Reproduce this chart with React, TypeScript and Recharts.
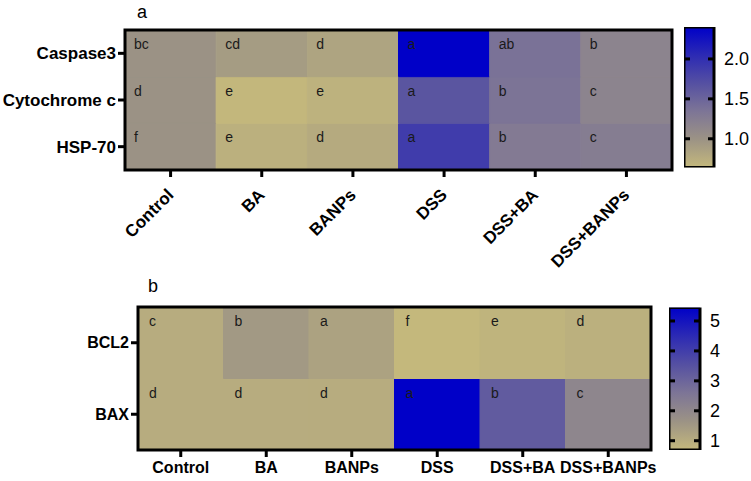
import React from "react";
import {
  BarChart,
  Bar,
  XAxis,
  YAxis,
  Cell,
  LabelList,
} from "recharts";

const FONT = "'Liberation Sans', Arial, Helvetica, sans-serif";

// groups along the x axis (same for both panels)
const groups = ["Control", "BA", "BANPs", "DSS", "DSS+BA", "DSS+BANPs"];

// panel a - rows top to bottom
const markersA = ["Caspase3", "Cytochrome c", "HSP-70"];
const caspase3 = [1.0, 0.91, 0.83, 2.4, 1.37, 1.17];
const cytochromeC = [1.0, 0.65, 0.7, 1.65, 1.35, 1.17];
const hsp70 = [1.0, 0.72, 0.77, 1.88, 1.28, 1.25];
const caspase3Letters = ["bc", "cd", "d", "a", "ab", "b"];
const cytochromeCLetters = ["d", "e", "e", "a", "b", "c"];
const hsp70Letters = ["f", "e", "d", "a", "b", "c"];
const scaleA = [0.64, 2.4];
const scaleTicksA = [1.0, 1.5, 2.0];

// panel b - rows top to bottom
const markersB = ["BCL2", "BAX"];
const bcl2 = [1.0, 1.5, 1.25, 0.69, 0.8, 0.9];
const bax = [1.0, 1.0, 1.0, 5.45, 3.27, 2.07];
const bcl2Letters = ["c", "b", "a", "f", "e", "d"];
const baxLetters = ["d", "d", "d", "a", "b", "c"];
const scaleB = [0.69, 5.45];
const scaleTicksB = [1, 2, 3, 4, 5];

// khaki -> grey -> blue, like the colour map in the figure
const STOPS: [number, number[]][] = [
  [0, [196, 184, 124]],
  [0.2, [156, 147, 133]],
  [0.4, [125, 117, 150]],
  [0.6, [85, 80, 162]],
  [0.8, [44, 42, 180]],
  [1, [0, 0, 200]],
];

const rgb = (c: number[]) => `rgb(${c.map((v) => Math.round(v)).join(",")})`;

function heatColor(v: number, lo: number, hi: number) {
  const t = Math.max(0, Math.min(1, (v - lo) / (hi - lo)));
  for (let i = 1; i < STOPS.length; i++) {
    const [t0, c0] = STOPS[i - 1];
    const [t1, c1] = STOPS[i];
    if (t <= t1) {
      const f = (t - t0) / (t1 - t0);
      return rgb(c0.map((c, k) => c + (c1[k] - c) * f));
    }
  }
  return rgb(STOPS[STOPS.length - 1][1]);
}

function RotatedTick({ x, y, payload }: any) {
  return (
    <g transform={`translate(${Number(x) + 4},${Number(y) + 17})`}>
      <text
        textAnchor="end"
        transform="rotate(-45)"
        fontSize={17}
        fontWeight={700}
        fontFamily={FONT}
        fill="#000"
      >
        {payload.value}
      </text>
    </g>
  );
}

const letterLabel = (dx: number, dy: number) => (props: any) => {
  const { x, y, value } = props;
  return (
    <text
      x={Number(x) + dx}
      y={Number(y) + dy}
      fontSize={14}
      fontFamily={FONT}
      fill="#1a1a1a"
    >
      {value}
    </text>
  );
};

const TICK_SIZE = 6;
const TICK_MARGIN = 4;

// label on the right plus the short inner marks on both edges of the bar
const scaleTick = (digits: number, plotWidth: number) => (props: any) => {
  const x = Number(props.x);
  const y = Number(props.y);
  const right = x - TICK_SIZE - TICK_MARGIN;
  const left = right - plotWidth;
  return (
    <g>
      <line x1={left} x2={left + 6} y1={y} y2={y} stroke="#000" strokeWidth={3} />
      <line x1={right - 6} x2={right} y1={y} y2={y} stroke="#000" strokeWidth={3} />
      <text
        x={x}
        y={y}
        dy="0.355em"
        textAnchor="start"
        fontSize={18}
        fontFamily={FONT}
        fill="#000"
      >
        {Number(props.payload.value).toFixed(digits)}
      </text>
    </g>
  );
};

function ColorBar({
  id,
  range,
  ticks,
  digits,
  plotWidth,
  height,
  top,
  bottom,
}: {
  id: string;
  range: number[];
  ticks: number[];
  digits: number;
  plotWidth: number;
  height: number;
  top: number;
  bottom: number;
}) {
  const data = [{ name: "scale", span: range }];
  const axisW = 45;
  return (
    <BarChart
      width={plotWidth + axisW}
      height={height}
      data={data}
      margin={{ top, right: 0, bottom, left: 0 }}
      barCategoryGap={0}
    >
      <defs>
        <linearGradient id={id} x1="0" y1="0" x2="0" y2="1">
          {[...STOPS].reverse().map(([t, c]) => (
            <stop key={t} offset={1 - t} stopColor={rgb(c)} />
          ))}
        </linearGradient>
      </defs>
      <XAxis dataKey="name" hide />
      <Bar
        dataKey="span"
        fill={`url(#${id})`}
        stroke="#000"
        strokeWidth={3}
        isAnimationActive={false}
      />
      <YAxis
        orientation="right"
        type="number"
        domain={range}
        ticks={ticks}
        allowDataOverflow
        width={axisW}
        axisLine={false}
        tickLine={false}
        tickSize={TICK_SIZE}
        tickMargin={TICK_MARGIN}
        tick={scaleTick(digits, plotWidth)}
      />
    </BarChart>
  );
}

// thick black frame: one hollow bar spanning all rows, in a chart laid over the heatmap
function Frame({
  rows,
  width,
  height,
  margin,
}: {
  rows: number;
  width: number;
  height: number;
  margin: { top: number; right: number; bottom: number; left: number };
}) {
  const data = [{ name: "frame", span: [0, rows] }];
  return (
    <BarChart width={width} height={height} data={data} margin={margin} barCategoryGap={0}>
      <XAxis dataKey="name" hide />
      <YAxis type="number" domain={[0, rows]} hide />
      <Bar
        dataKey="span"
        fill="none"
        stroke="#000"
        strokeWidth={3}
        isAnimationActive={false}
      />
    </BarChart>
  );
}

export default function App() {
  // rows listed bottom-up for stacking
  const rowsA = [
    { key: "hsp", values: hsp70, letters: hsp70Letters },
    { key: "cyt", values: cytochromeC, letters: cytochromeCLetters },
    { key: "casp", values: caspase3, letters: caspase3Letters },
  ];
  const rowsB = [
    { key: "bax", values: bax, letters: baxLetters },
    { key: "bcl", values: bcl2, letters: bcl2Letters },
  ];

  const tableA = groups.map((g, i) => {
    const row: any = { group: g };
    rowsA.forEach((r) => {
      row[r.key] = 1;
      row[r.key + "_l"] = r.letters[i];
    });
    return row;
  });
  const tableB = groups.map((g, i) => {
    const row: any = { group: g };
    rowsB.forEach((r) => {
      row[r.key] = 1;
      row[r.key + "_l"] = r.letters[i];
    });
    return row;
  });

  const yTickStyle = { fontSize: 17, fontWeight: 700, fill: "#000", fontFamily: FONT };
  const lineStyle = { stroke: "#000", strokeWidth: 3 };
  const abs = (left: number, top: number) =>
    ({ position: "absolute", left, top } as React.CSSProperties);

  return (
    <div
      style={{
        position: "absolute",
        left: 0,
        top: 0,
        width: 751,
        height: 481,
        background: "#fff",
        overflow: "hidden",
      }}
    >
      <svg width={751} height={481} style={abs(0, 0)}>
        <text x={137} y={18} fontSize={18} fontFamily={FONT} fill="#000">
          a
        </text>
        <text x={148} y={292} fontSize={18} fontFamily={FONT} fill="#000">
          b
        </text>
      </svg>

      {/* panel b */}
      <div style={abs(0, 250)}>
        <BarChart
          width={751}
          height={231}
          data={tableB}
          margin={{ top: 57, right: 100, bottom: 0, left: 0 }}
          barCategoryGap={0}
          barGap={0}
        >
          <XAxis
            dataKey="group"
            height={31}
            interval={0}
            axisLine={false}
            tickSize={7}
            tickMargin={5}
            tickLine={lineStyle}
            tick={{ fontSize: 16, fontWeight: 700, fill: "#000", fontFamily: FONT }}
          />
          <YAxis
            type="number"
            domain={[0, 2]}
            ticks={[0.5, 1.5]}
            width={138}
            axisLine={false}
            tickSize={7}
            tickLine={lineStyle}
            tick={{ ...yTickStyle, fontSize: 16 }}
            tickFormatter={(v: number) => markersB[markersB.length - 1 - Math.floor(v)]}
          />
          {rowsB.map((r) => (
            <Bar key={r.key} dataKey={r.key} stackId="cells" isAnimationActive={false}>
              {r.values.map((v, i) => {
                const c = heatColor(v, scaleB[0], scaleB[1]);
                return <Cell key={i} fill={c} stroke={c} strokeWidth={1} />;
              })}
              <LabelList dataKey={r.key + "_l"} content={letterLabel(11, 19)} />
            </Bar>
          ))}
        </BarChart>
      </div>
      <div style={abs(0, 250)}>
        <Frame
          rows={2}
          width={751}
          height={231}
          margin={{ top: 57, right: 100, bottom: 31, left: 138 }}
        />
      </div>
      <div style={abs(669, 250)}>
        <ColorBar
          id="gradB"
          range={scaleB}
          ticks={scaleTicksB}
          digits={0}
          plotWidth={31}
          height={231}
          top={57.5}
          bottom={31}
        />
      </div>

      {/* panel a - taller than its slot so the last rotated label is not clipped */}
      <div style={abs(0, 0)}>
        <BarChart
          width={751}
          height={290}
          data={tableA}
          margin={{ top: 30, right: 79, bottom: 40, left: 0 }}
          barCategoryGap={0}
          barGap={0}
        >
          <XAxis
            dataKey="group"
            height={80}
            interval={0}
            axisLine={false}
            tickSize={7}
            tickLine={lineStyle}
            tick={<RotatedTick />}
          />
          <YAxis
            type="number"
            domain={[0, 3]}
            ticks={[0.5, 1.5, 2.5]}
            width={125}
            axisLine={false}
            tickSize={7}
            tickLine={lineStyle}
            tick={yTickStyle}
            tickFormatter={(v: number) => markersA[markersA.length - 1 - Math.floor(v)]}
          />
          {rowsA.map((r) => (
            <Bar key={r.key} dataKey={r.key} stackId="cells" isAnimationActive={false}>
              {r.values.map((v, i) => {
                const c = heatColor(v, scaleA[0], scaleA[1]);
                return <Cell key={i} fill={c} stroke={c} strokeWidth={1} />;
              })}
              <LabelList dataKey={r.key + "_l"} content={letterLabel(9, 19)} />
            </Bar>
          ))}
        </BarChart>
      </div>
      <div style={abs(0, 0)}>
        <Frame
          rows={3}
          width={751}
          height={250}
          margin={{ top: 30, right: 79, bottom: 80, left: 125 }}
        />
      </div>
      <div style={abs(684, 0)}>
        <ColorBar
          id="gradA"
          range={scaleA}
          ticks={scaleTicksA}
          digits={1}
          plotWidth={30}
          height={250}
          top={27}
          bottom={82.5}
        />
      </div>
    </div>
  );
}
